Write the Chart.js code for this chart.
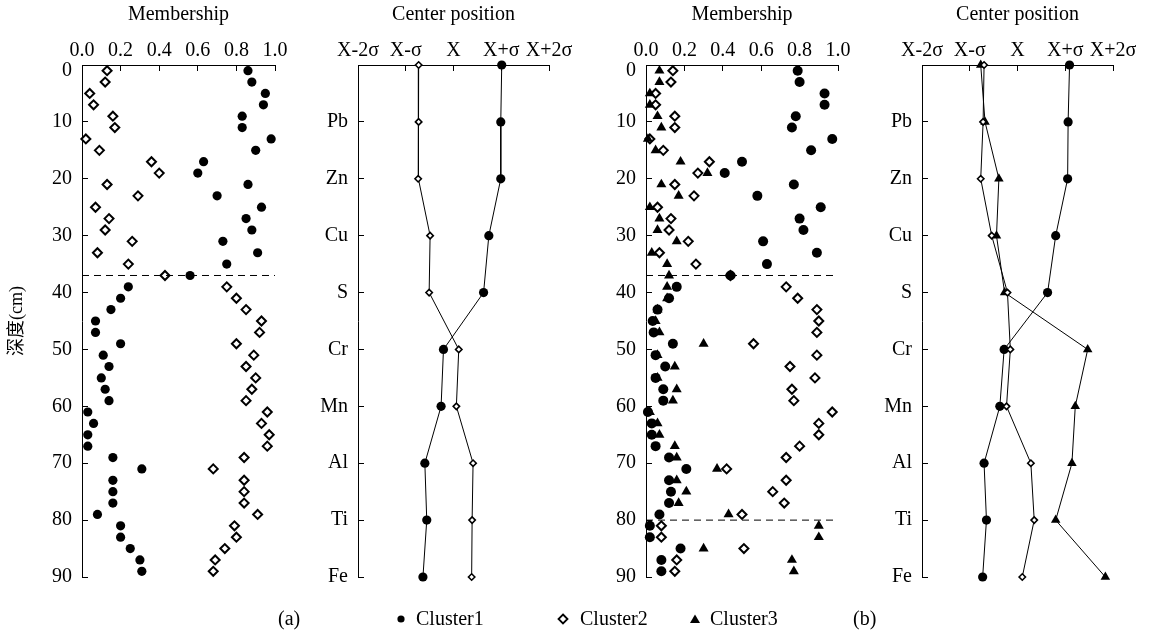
<!DOCTYPE html>
<html>
<head>
<meta charset="utf-8">
<script src="https://cdn.jsdelivr.net/npm/chart.js@4.4.1/dist/chart.umd.min.js"></script>
<style>
html,body{margin:0;padding:0;background:#fff;width:1151px;height:633px;overflow:hidden;}
.panel{position:absolute;top:0;height:617px;}
.txt{position:absolute;top:606px;font-family:"Liberation Serif","Times New Roman",serif;font-size:20px;line-height:24px;color:#000;white-space:nowrap;}
.mk{position:absolute;}
</style>
</head>
<body>
<div class="panel" style="left:0px;width:315px"><canvas id="c1"></canvas></div>
<div class="panel" style="left:290px;width:299px"><canvas id="c2"></canvas></div>
<div class="panel" style="left:580px;width:298px"><canvas id="c3"></canvas></div>
<div class="panel" style="left:860px;width:289px"><canvas id="c4"></canvas></div>

<div class="txt" style="left:278px">(a)</div>
<div class="txt" style="left:853px">(b)</div>
<svg class="mk" style="left:396px;top:614px" width="10" height="10"><circle cx="5" cy="5" r="3.6" fill="#000"/></svg>
<div class="txt" style="left:416px">Cluster1</div>
<svg class="mk" style="left:557px;top:613px" width="12" height="12"><polygon points="6,1.5 10.5,6 6,10.5 1.5,6" fill="#fff" stroke="#000" stroke-width="1.8"/></svg>
<div class="txt" style="left:580px">Cluster2</div>
<svg class="mk" style="left:689px;top:613px" width="12" height="12"><polygon points="6,1.5 11,10 1,10" fill="#000"/></svg>
<div class="txt" style="left:710px">Cluster3</div>

<script>
// ---------- data ----------
const depths = [1,3,5,7,9,11,13,15,17,19,21,23,25,27,29,31,33,35,37,39,41,43,45,47,49,51,53,55,57,59,61,63,65,67,69,71,73,75,77,79,81,83,85,87,89];

// (a) membership, two clusters
const aCluster1 = [0.86,0.88,0.95,0.94,0.83,0.83,0.98,0.90,0.63,0.60,0.86,0.70,0.93,0.85,0.88,0.73,0.91,0.75,0.56,0.24,0.20,0.15,0.07,0.07,0.20,0.11,0.14,0.10,0.12,0.14,0.03,0.06,0.03,0.03,0.16,0.31,0.16,0.16,0.16,0.08,0.20,0.20,0.25,0.30,0.31];
const aCluster2 = [0.13,0.12,0.04,0.06,0.16,0.17,0.02,0.09,0.36,0.40,0.13,0.29,0.07,0.14,0.12,0.26,0.08,0.24,0.43,0.75,0.80,0.85,0.93,0.92,0.80,0.89,0.85,0.90,0.88,0.85,0.96,0.93,0.97,0.96,0.84,0.68,0.84,0.84,0.84,0.91,0.79,0.80,0.74,0.69,0.68];
const aBoundaries = [37];

// (b) membership, three clusters
const bCluster1 = [0.79,0.80,0.93,0.93,0.78,0.76,0.97,0.86,0.50,0.41,0.77,0.58,0.91,0.80,0.82,0.61,0.89,0.63,0.44,0.16,0.12,0.06,0.035,0.04,0.14,0.05,0.10,0.05,0.09,0.09,0.01,0.03,0.03,0.05,0.12,0.21,0.12,0.13,0.12,0.07,0.02,0.02,0.18,0.08,0.08];
const bCluster2 = [0.14,0.13,0.05,0.05,0.15,0.15,0.02,0.09,0.33,0.27,0.15,0.25,0.06,0.13,0.12,0.22,0.07,0.26,0.44,0.73,0.79,0.89,0.90,0.89,0.56,0.89,0.75,0.88,0.76,0.77,0.97,0.90,0.90,0.80,0.73,0.42,0.73,0.66,0.72,0.50,0.08,0.08,0.51,0.16,0.15];
const bCluster3 = [0.07,0.07,0.02,0.02,0.06,0.08,0.01,0.05,0.18,0.32,0.08,0.17,0.02,0.07,0.06,0.16,0.03,0.11,0.12,0.11,0.11,0.06,0.05,0.07,0.30,0.06,0.15,0.06,0.16,0.14,0.02,0.06,0.07,0.15,0.16,0.37,0.16,0.21,0.17,0.43,0.90,0.90,0.30,0.76,0.77];
const bBoundaries = [37, 80];

// center positions (in sigma units)
const elements = ['', 'Pb', 'Zn', 'Cu', 'S', 'Cr', 'Mn', 'Al', 'Ti', 'Fe'];
const sigmaTicks = {'-2':'X-2σ', '-1':'X-σ', '0':'X', '1':'X+σ', '2':'X+2σ'};
const aCenter1 = [1.01,0.99,0.99,0.74,0.63,-0.21,-0.26,-0.60,-0.56,-0.64];
const aCenter2 = [-0.73,-0.73,-0.74,-0.49,-0.51,0.11,0.06,0.41,0.39,0.38];
const bCenter1 = [1.09,1.06,1.05,0.80,0.63,-0.28,-0.37,-0.70,-0.65,-0.73];
const bCenter2 = [-0.70,-0.72,-0.77,-0.54,-0.21,-0.15,-0.23,0.28,0.35,0.10];
const bCenter3 = [-0.77,-0.68,-0.39,-0.44,-0.27,1.47,1.21,1.14,0.80,1.84];

// ---------- helpers ----------
const FONT = '"Liberation Serif", "Times New Roman", serif';
Chart.defaults.font.family = FONT;
Chart.defaults.color = '#000';

const depthPts = (vals) => vals.map((v, i) => ({x: v, y: depths[i]}));
const rowPts = (vals) => vals.map((v, i) => ({x: v, y: i}));

const STY = {
  c1: {pointStyle: 'circle', backgroundColor: '#000', borderColor: '#000', borderWidth: 0},
  c2: {pointStyle: 'rectRot', backgroundColor: '#fff', borderColor: '#000'},
  c3: {pointStyle: 'triangle', backgroundColor: '#000', borderColor: '#000', borderWidth: 0}
};

function gridOpts() {
  return {drawOnChartArea: false, drawTicks: true, tickLength: -6, color: '#000', lineWidth: 1};
}

function topAxis(min, max, step, cb, title) {
  return {
    type: 'linear', position: 'top', min: min, max: max,
    grid: gridOpts(),
    border: {display: true, color: '#000', width: 1},
    ticks: {stepSize: step, padding: 8, autoSkip: false, maxRotation: 0, color: '#000',
            font: {family: FONT, size: 20}, callback: cb},
    title: {display: true, text: title, color: '#000', font: {family: FONT, size: 20}, padding: {top: 3, bottom: 0}},
    afterFit: (s) => { s.height = 65; }
  };
}

function leftAxis(min, max, step, cb, width, titleText) {
  const ax = {
    type: 'linear', position: 'left', reverse: true, min: min, max: max,
    grid: gridOpts(),
    border: {display: true, color: '#000', width: 1},
    ticks: {stepSize: step, padding: 16, autoSkip: false, color: '#000', callback: cb,
            font: (c) => (c.tick && c.tick.value === 0) ? {family: FONT, size: 20, lineHeight: 0.55} : {family: FONT, size: 20}},
    afterFit: (s) => { s.width = width; }
  };
  if (titleText) {
    ax.title = {display: true, text: titleText, color: '#000',
                font: {family: '"Liberation Serif", "Noto Sans CJK SC", serif', size: 18}, padding: {top: 6, bottom: 0}};
  }
  return ax;
}

function boundarySets(list) {
  return list.map((d) => ({
    data: [{x: 0, y: d}, {x: 1, y: d}], showLine: true, borderColor: '#000', borderWidth: 1,
    borderDash: [7, 5], pointRadius: 0, clip: false, order: 0
  }));
}

function makeChart(id, datasets, xAxis, yAxis, padRight) {
  return new Chart(document.getElementById(id), {
    type: 'scatter',
    data: {datasets: datasets},
    options: {
      responsive: true, maintainAspectRatio: false, animation: false, events: [],
      layout: {padding: {left: 0, top: 0, right: padRight, bottom: 40}},
      plugins: {legend: {display: false}, tooltip: {enabled: false}},
      scales: {x: xAxis, y: yAxis}
    }
  });
}

const memTick = (v) => Number(v).toFixed(1);
const depthTick = (v) => (v === 0 ? ['', '0'] : String(v));
const sigTick = (v) => sigmaTicks[String(Math.round(v))];
const elemTick = (v) => elements[Math.round(v)];

// ---------- (a) membership ----------
makeChart('c1', [
  Object.assign({data: depthPts(aCluster2), pointRadius: 4.5, clip: false, order: 1}, STY.c2, {borderWidth: 2}),
  Object.assign({data: depthPts(aCluster1), pointRadius: 4.6, clip: false, order: 2}, STY.c1),
  ...boundarySets(aBoundaries)
], topAxis(0, 1, 0.2, memTick, 'Membership'), leftAxis(0, 90, 10, depthTick, 82, '深度(cm)'), 40);

// ---------- (a) center position ----------
const lineSet = (vals, sty, r, bw, order) => Object.assign({
  data: rowPts(vals), showLine: true, borderColor: '#000', borderWidth: 1, pointRadius: r, clip: false, order: order
}, sty, {pointBorderWidth: bw, borderWidth: 1});
makeChart('c2', [
  lineSet(aCenter2, STY.c2, 3.2, 1.6, 1),
  lineSet(aCenter1, STY.c1, 4.6, 0, 2)
], topAxis(-2, 2, 1, sigTick, 'Center position'), leftAxis(0, 9, 1, elemTick, 68, null), 40);

// ---------- (b) membership ----------
makeChart('c3', [
  Object.assign({data: depthPts(bCluster3), pointRadius: 5.8, clip: false, order: 1}, STY.c3),
  Object.assign({data: depthPts(bCluster1), pointRadius: 5, clip: false, order: 2}, STY.c1),
  Object.assign({data: depthPts(bCluster2), pointRadius: 4.5, clip: false, order: 3}, STY.c2, {borderWidth: 2}),
  ...boundarySets(bBoundaries)
], topAxis(0, 1, 0.2, memTick, 'Membership'), leftAxis(0, 90, 10, depthTick, 66, null), 40);

// ---------- (b) center position ----------
makeChart('c4', [
  lineSet(bCenter2, STY.c2, 3.2, 1.6, 1),
  lineSet(bCenter3, STY.c3, 5.5, 0, 2),
  lineSet(bCenter1, STY.c1, 4.6, 0, 3)
], topAxis(-2, 2, 1, sigTick, 'Center position'), leftAxis(0, 9, 1, elemTick, 62, null), 36);
</script>
</body>
</html>
